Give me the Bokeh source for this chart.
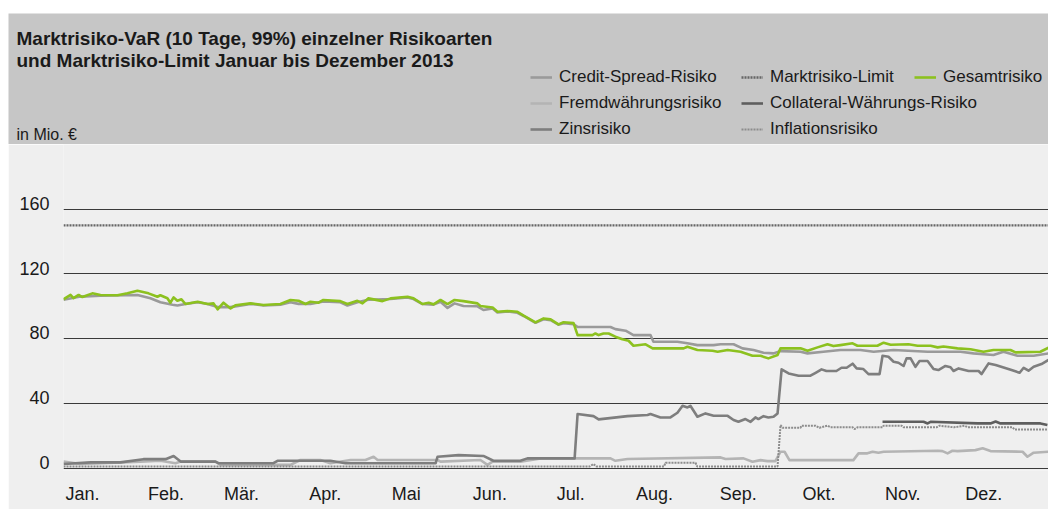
from bokeh.plotting import figure
from bokeh.layouts import column, row
from bokeh.models import Range1d, FixedTicker, Legend, LegendItem, Label, BoxAnnotation, Spacer
from bokeh.embed import file_html
from bokeh.resources import INLINE

# ---------------- data (x = day of year 2013, values in Mio. EUR) ----------------
MONTHS = ["Jan.", "Feb.", "Mär.", "Apr.", "Mai", "Jun.", "Jul.", "Aug.", "Sep.", "Okt.", "Nov.", "Dez."]
MONTH_START_DAY = [0, 31, 59, 90, 120, 151, 181, 212, 243, 273, 304, 334]
Y_TICKS = [0, 40, 80, 120, 160]

limit_day = [0, 365]
limit_val = [150, 150]

gesamt_day = [0, 2.6, 3.7, 5.6, 7.0, 10.7, 13.7, 20.0, 23.7, 27.4, 31.5, 34.8, 35.9, 38.5, 39.6, 40.8,
              42.2, 43.7, 45.2, 49.7, 53.4, 55.6, 57.1, 59.3, 61.9, 63.7, 69.3, 74.1, 80.4, 84.1, 87.1,
              89.7, 91.5, 94.5, 96.3, 102.6, 105.2, 108.9, 110.8, 113.0, 118.2, 121.2, 127.5, 129.7,
              133.0, 135.3, 137.1, 139.7, 142.3, 144.9, 148.2, 153.4, 154.5, 159.0, 160.8, 164.5, 168.2,
              170.5, 174.9, 177.9, 180.5, 183.4, 185.3, 189.0, 190.5, 196.0, 197.1, 198.3, 200.1, 202.0,
              204.5, 207.1, 209.4, 211.2, 215.7, 218.3, 229.8, 231.2, 234.9, 240.5, 242.4, 246.1, 250.9,
              255.3, 258.3, 261.2, 264.6, 265.7, 273.1, 275.7, 279.4, 283.1, 285.3, 287.9, 292.4, 294.2,
              301.6, 303.9, 306.5, 313.1, 316.5, 321.3, 323.9, 326.1, 331.3, 336.1, 340.9, 344.6, 350.9,
              352.8, 362.0, 365]
gesamt_val = [104.3, 107, 105, 107, 105.7, 108, 107, 106.8, 108, 109.6, 108, 105.9, 106.8, 105, 102.2, 105.5,
              103.4, 104.3, 101.4, 102.8, 101.4, 101.8, 98.1, 102.2, 98.7, 100.6, 101.8, 100.8, 101.4, 103.9, 103.4,
              101.4, 102.8, 102.2, 103.9, 103.2, 101.4, 103.4, 101.8, 104.9, 103.2, 104.9, 105.9, 104.9,
              101.4, 102.2, 101.2, 103.9, 101.4, 103.9, 103.2, 101.8, 100.2, 99.3, 96.6, 97.1, 96.6,
              94.2, 90.1, 92.5, 91.9, 88.8, 90.1, 89.6, 82.2, 82.2, 83.2, 82.2, 83.2, 83.2,
              81.2, 79.6, 78.7, 75.6, 76.5, 74, 74, 75, 73, 72.5, 71.9, 73, 71.9,
              69.4, 69.4, 67.8, 69.9, 74, 74, 72.5, 74.6, 76.5, 75.4, 76, 77.1, 75.6,
              75.6, 77.5, 76.2, 76.5, 75.6, 75.6, 74.6, 75.1, 74, 73.4, 71.9, 73, 73,
              71.5, 71.9, 74.4]

credit_day = [0, 6.3, 13.7, 27.4, 32.2, 35.9, 40.4, 42.2, 45.2, 49.7, 53.4, 57.1, 61.9, 69.3, 74.1, 80.4,
              84.1, 87.1, 91.5, 96.3, 102.6, 105.2, 108.9, 113.0, 121.2, 127.5, 129.7, 133.0, 137.1, 139.7,
              142.3, 144.9, 148.2, 153.4, 155.6, 159.0, 160.8, 164.5, 168.2, 170.5, 174.9, 177.9, 180.5,
              183.4, 185.3, 189.0, 190.5, 202.7, 204.5, 208.3, 211.2, 217.5, 218.6, 227.5, 231.2, 234.9,
              240.9, 243.5, 248.3, 251.6, 255.7, 259.4, 263.1, 265.7, 273.1, 275.7, 281.6, 287.9, 295.3,
              300.2, 307.6, 320.2, 332.4, 337.2, 344.6, 348.3, 353.5, 359.5, 365]
credit_val = [104, 106, 106.5, 107, 105, 102.5, 101, 100.5, 101.4, 102.5, 101.4, 99.5, 99.5, 101.5, 100.5, 101,
              102.5, 101.5, 101.5, 103, 102.5, 100.5, 102.5, 104, 104.5, 105.5, 104.5, 101.4, 101, 102.8,
              99, 101.8, 100.2, 100, 97.7, 98.7, 96.2, 96.8, 96, 94, 89.8, 92, 91.4,
              88.6, 89.5, 89, 87.2, 87.2, 85.9, 84.9, 82.2, 82.2, 78.1, 78.1, 77.1, 76,
              76, 76.5, 76.5, 74, 73, 71.3, 70.9, 72.3, 71.9, 70.9, 71.9, 73, 73,
              71.9, 73, 71.9, 71.9, 70.9, 69.9, 71.9, 69.4, 69.4, 70.9]

zins_day = [0, 10.0, 21.1, 29.6, 37.8, 40.8, 43.4, 56.3, 57.4, 77.8, 79.3, 98.9, 104.5, 137.9, 138.6, 146.4,
            155.6, 159.3, 169.3, 171.9, 189.4, 190.5, 196.4, 198.3, 201.6, 209.0, 216.4, 217.5, 221.2, 224.9,
            227.5, 229.4, 231.2, 232.3, 234.9, 237.9, 240.9, 246.1, 248.3, 250.1, 252.7, 254.6, 256.4, 257.5,
            259.4, 261.2, 263.1, 264.6, 266.1, 268.7, 272.4, 276.8, 278.7, 280.9, 282.7, 286.4, 288.3, 290.2,
            292.4, 293.9, 296.4, 298.3, 302.4, 303.5, 305.7, 307.6, 309.4, 311.3, 312.4, 313.9, 315.7, 317.2,
            320.2, 322.4, 324.2, 326.8, 328.7, 329.8, 331.7, 335.4, 339.1, 340.2, 342.8, 345.4, 351.3, 354.3,
            355.8, 357.6, 359.5, 362.4, 365]
zins_val = [2.5, 3.5, 3.5, 5.5, 5.5, 7.5, 4, 4, 3, 3, 4.5, 4.5, 3, 3, 7, 8,
            7.5, 4.5, 4.5, 6, 6, 33.4, 32.1, 30.1, 30.7, 32.1, 32.8, 33.4, 31.3, 31.3,
            34.2, 38.5, 37.5, 38.5, 31.7, 33.8, 32.3, 32.3, 29.7, 28.6, 30.3, 28.6, 31.3, 30.3,
            32.1, 31.3, 31.7, 33.8, 61, 58.5, 57.1, 57.1, 58.9, 61, 60, 60, 62, 62,
            64.5, 61.6, 61.2, 58.1, 58.1, 69.4, 68.8, 65.7, 65.1, 63.1, 67.8, 67.8, 62.6, 66.2,
            66.2, 61.2, 60.6, 63.1, 62.3, 60, 61.6, 60, 60, 58.1, 64.7, 63.7, 60.6, 58.9,
            62, 60.2, 62.6, 64.3, 66.8]

fremd_day = [0, 6.3, 13.7, 28.5, 35.9, 41.5, 43.4, 56.3, 58.2, 84.1, 87.8, 95.2, 98.9, 106.4, 111.9, 114.9,
             116.4, 138.6, 139.7, 154.5, 157.1, 159.0, 169.3, 176.8, 202.7, 204.5, 209.0, 243.5, 245.3, 252.0,
             255.3, 258.3, 260.9, 263.8, 265.7, 267.2, 269.0, 292.7, 294.6, 297.9, 299.8, 302.0, 303.9, 323.9,
             325.7, 327.6, 329.4, 331.3, 337.9, 340.6, 343.5, 355.4, 357.2, 359.5, 365]
fremd_val = [4, 2.5, 3, 4, 4.5, 3, 4, 4, 2, 2, 5, 5, 3, 5, 5, 7,
             5, 5, 4, 5, 2, 4, 4, 6, 6, 4.5, 5.6, 6.6, 5.6, 6,
             3.9, 4.9, 4.3, 4.3, 10.1, 10.1, 4.9, 4.9, 9.1, 9.1, 10.1, 9.5, 10.1, 10.7,
             10.5, 9.1, 10.7, 10.5, 11.1, 12.2, 10.5, 10.1, 7, 9.5, 10.1]

collat_day = [303.5, 318.7, 320.2, 321.3, 338.7, 343.5, 345.4, 347.2, 362.0, 364.6]
collat_val = [28.6, 28.6, 27.6, 28.6, 27.6, 27.6, 28.8, 27.6, 27.6, 26.6]

infl_day = [0, 195, 196.4, 197.5, 222.5, 223.1, 234.2, 234.8, 264.6, 265.7, 266.5, 273.1, 273.5, 278.7,
            280.1, 283.1, 284.2, 292.4, 293.1, 294.2, 303.5, 303.9, 310.6, 311.3, 323.5, 324.6, 330.0,
            333.9, 335.1, 351.7, 352.4, 365]
infl_val = [1, 1, 2.5, 1, 1, 3.3, 3.3, 1, 1, 26.6, 24.9, 24.9, 26.2, 26.2,
            24.9, 26.2, 25.2, 25.2, 24.1, 25.2, 25.2, 26.2, 26.2, 25.2, 25.2, 26.2, 25.2,
            26.2, 25.2, 25.2, 23.9, 23.9]

SERIES = {
    "Credit-Spread-Risiko": (credit_day, credit_val),
    "Fremdwährungsrisiko": (fremd_day, fremd_val),
    "Zinsrisiko": (zins_day, zins_val),
    "Marktrisiko-Limit": (limit_day, limit_val),
    "Collateral-Währungs-Risiko": (collat_day, collat_val),
    "Inflationsrisiko": (infl_day, infl_val),
    "Gesamtrisiko": (gesamt_day, gesamt_val),
}
DRAW_ORDER = ["Fremdwährungsrisiko", "Inflationsrisiko", "Zinsrisiko", "Collateral-Währungs-Risiko",
              "Credit-Spread-Risiko", "Marktrisiko-Limit", "Gesamtrisiko"]

TITLE_1 = "Marktrisiko-VaR (10 Tage, 99%) einzelner Risikoarten"
TITLE_2 = "und Marktrisiko-Limit Januar bis Dezember 2013"
UNIT = "in Mio. €"

# ---------------- styling ----------------
FONT = "Liberation Sans"
TXT = "#1a1a1a"
PAGE_W = 1048
HEAD_H = 144
MAIN_H = 365
LEFT_PAD = 8

STYLES = {
    "Credit-Spread-Risiko": dict(line_color="#9a9a9a", line_width=2.6, line_join="round"),
    "Fremdwährungsrisiko": dict(line_color="#b4b4b4", line_width=2.6, line_join="round"),
    "Zinsrisiko": dict(line_color="#7e7e7e", line_width=2.6, line_join="round"),
    "Marktrisiko-Limit": dict(line_color="#666666", line_width=2.4, line_dash="2 1"),
    "Collateral-Währungs-Risiko": dict(line_color="#5e5e5e", line_width=2.6, line_join="round"),
    "Inflationsrisiko": dict(line_color="#8c8c8c", line_width=2, line_dash="2 1"),
    "Gesamtrisiko": dict(line_color="#8cc11f", line_width=2.6, line_join="round"),
}

# ---------------- main chart ----------------
p = figure(width=PAGE_W - LEFT_PAD, height=MAIN_H, output_backend="svg", toolbar_location=None,
           x_range=Range1d(0, 365), y_range=Range1d(-1.5, 200),
           min_border_left=55, min_border_right=0, min_border_top=0, min_border_bottom=39)
p.background_fill_color = "#efefef"
p.border_fill_color = "#efefef"
p.outline_line_color = None

for name in DRAW_ORDER:
    xs, ys = SERIES[name]
    p.line(xs, ys, **STYLES[name])

Y_OFF = 3.5  # labels sit slightly above their grid lines in the original
p.yaxis.ticker = FixedTicker(ticks=[t + Y_OFF for t in Y_TICKS])
p.yaxis.major_label_overrides = {t + Y_OFF: str(t) for t in Y_TICKS}
p.ygrid.ticker = FixedTicker(ticks=Y_TICKS)
p.ygrid.grid_line_color = "#3a3a3a"
p.ygrid.grid_line_width = 1
p.xgrid.visible = False

x_ticks = [d + 7 for d in MONTH_START_DAY]
p.xaxis.ticker = FixedTicker(ticks=x_ticks)
p.xaxis.major_label_overrides = {t: m for t, m in zip(x_ticks, MONTHS)}

for ax in (p.xaxis[0], p.yaxis[0]):
    ax.axis_line_color = None
    ax.major_tick_line_color = None
    ax.minor_tick_line_color = None
    ax.major_tick_out = 0
    ax.major_tick_in = 0
    ax.major_label_text_font = FONT
    ax.major_label_text_font_size = "18px"
    ax.major_label_text_color = TXT
p.xaxis.major_label_standoff = 13
p.yaxis.major_label_standoff = 14

# ---------------- header (title, unit, legend) ----------------
h = figure(width=PAGE_W, height=HEAD_H, output_backend="svg", toolbar_location=None,
           x_range=Range1d(0, PAGE_W), y_range=Range1d(HEAD_H, 0),
           x_axis_location=None, y_axis_location=None,
           min_border_left=0, min_border_right=0, min_border_top=0, min_border_bottom=0)
h.grid.visible = False
h.outline_line_color = None
h.background_fill_color = "#ffffff"
h.border_fill_color = "#ffffff"
h.add_layout(BoxAnnotation(left=LEFT_PAD, right=PAGE_W, top=13, bottom=HEAD_H,
                           fill_color="#c6c6c6", fill_alpha=1, line_alpha=0, level="underlay"))
# the legend entries refer to copies of the series kept outside the header's visible range
h.extra_y_ranges = {"off": Range1d(1000, 2000)}

def add_label(text, x, y, size, bold=False):
    h.add_layout(Label(x=x, y=y, text=text, text_font=FONT, text_font_size=size, text_color=TXT,
                       text_font_style="bold" if bold else "normal", text_baseline="alphabetic"))

add_label(TITLE_1, 16, 38, "19px", True)
add_label(TITLE_2, 16, 60, "19px", True)
add_label(UNIT, 16, 134, "16px")

legend_cols = [
    (["Credit-Spread-Risiko", "Fremdwährungsrisiko", "Zinsrisiko"], 530, 2),
    (["Marktrisiko-Limit", "Collateral-Währungs-Risiko", "Inflationsrisiko"], 741, 2),
    (["Gesamtrisiko"], 914, 54),
]
for names, lx, ly in legend_cols:
    items = []
    for n in names:
        xs, ys = SERIES[n]
        r = h.line(xs, ys, y_range_name="off", **STYLES[n])
        items.append(LegendItem(label=n, renderers=[r]))
    h.add_layout(Legend(items=items, location=(lx, ly), orientation="vertical", padding=0, margin=0,
                        spacing=0, glyph_width=22, glyph_height=26, label_height=26, label_standoff=7,
                        label_text_font=FONT, label_text_font_size="17px", label_text_color=TXT,
                        background_fill_alpha=0, border_line_alpha=0))

layout = column(h, row(Spacer(width=LEFT_PAD, height=MAIN_H), p), spacing=0)
open("out.html", "w").write(file_html(layout, INLINE))
